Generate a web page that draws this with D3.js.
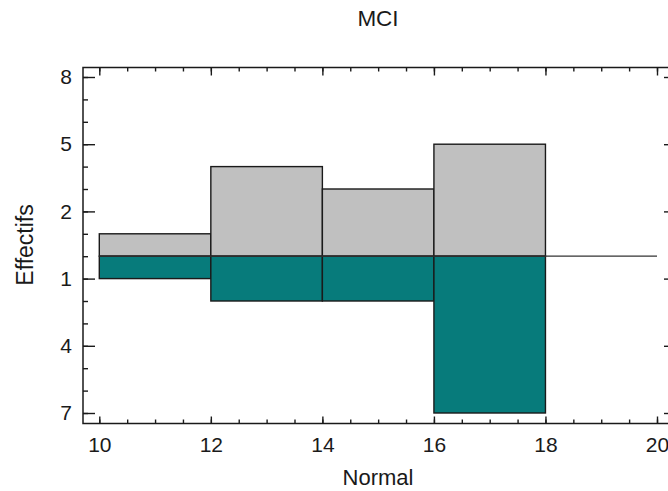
<!DOCTYPE html>
<html>
<head>
<meta charset="utf-8">
<script src="https://cdn.jsdelivr.net/npm/d3@7"></script>
<style>
  html, body { margin: 0; padding: 0; background: #fff; }
  svg { display: block; font-family: "Liberation Sans", Arial, sans-serif; }
</style>
</head>
<body>
<svg id="chart" width="668" height="491"></svg>
<script>
// ---- data ----
const binEdges = [10, 12, 14, 16, 18];
const mciCounts = [1, 4, 3, 5];        // upper histogram (MCI)
const normalCounts = [1, 2, 2, 7];     // lower histogram (Normal)
const xTickValues = [10, 12, 14, 16, 18, 20];
const yTickValues = [8, 5, 2, -1, -4, -7];
const titleText = "MCI";
const xLabelText = "Normal";
const yLabelText = "Effectifs";

// ---- layout ----
const svg = d3.select("#chart");
const frame = { left: 83, right: 676, top: 67.5, bottom: 423.5 };
const x = d3.scaleLinear().domain([10, 20]).range([99.3, 657]);
const y = d3.scaleLinear().domain([0, 8]).range([256.2, 77]);

const ink = "#1a1a1a";
const grayFill = "#c0c0c0";
const tealFill = "#077b7b";

const bins = mciCounts.map((c, i) => ({ x0: binEdges[i], x1: binEdges[i + 1], up: c, down: normalCounts[i] }));

// bars - upper (MCI)
svg.append("g").selectAll("rect").data(bins).join("rect")
  .attr("x", d => x(d.x0)).attr("width", d => x(d.x1) - x(d.x0))
  .attr("y", d => y(d.up)).attr("height", d => y(0) - y(d.up))
  .attr("fill", grayFill).attr("stroke", ink).attr("stroke-width", 1.4);

// bars - lower (Normal)
svg.append("g").selectAll("rect").data(bins).join("rect")
  .attr("x", d => x(d.x0)).attr("width", d => x(d.x1) - x(d.x0))
  .attr("y", y(0)).attr("height", d => y(-d.down) - y(0))
  .attr("fill", tealFill).attr("stroke", ink).attr("stroke-width", 1.4);

// baseline
svg.append("line")
  .attr("x1", x(10)).attr("x2", x(20)).attr("y1", y(0)).attr("y2", y(0))
  .attr("stroke", "#333").attr("stroke-width", 1.2);

// frame
svg.append("rect")
  .attr("x", frame.left).attr("y", frame.top)
  .attr("width", frame.right - frame.left).attr("height", frame.bottom - frame.top)
  .attr("fill", "none").attr("stroke", ink).attr("stroke-width", 1.5);

const xMinor = d3.range(10, 20.01, 0.5);
const yMinor = d3.range(-7, 8.01, 1);

function styleAxis(g) {
  g.select(".domain").remove();
  g.selectAll("line").attr("stroke", ink).attr("stroke-width", 1.4);
  g.selectAll("text").attr("fill", ink).attr("font-size", 21);
}

// bottom axis
svg.append("g").attr("transform", `translate(0,${frame.bottom})`)
  .call(d3.axisBottom(x).tickValues(xMinor).tickSize(-4).tickFormat(""))
  .call(styleAxis);
svg.append("g").attr("transform", `translate(0,${frame.bottom})`)
  .call(d3.axisBottom(x).tickValues(xTickValues).tickSize(-7).tickPadding(14).tickFormat(d3.format("d")))
  .call(styleAxis);

// top axis (ticks only)
svg.append("g").attr("transform", `translate(0,${frame.top})`)
  .call(d3.axisTop(x).tickValues(xMinor).tickSize(-4).tickFormat(""))
  .call(styleAxis);
svg.append("g").attr("transform", `translate(0,${frame.top})`)
  .call(d3.axisTop(x).tickValues(xTickValues).tickSize(-8).tickFormat(""))
  .call(styleAxis);

// left axis
svg.append("g").attr("transform", `translate(${frame.left},0)`)
  .call(d3.axisLeft(y).tickValues(yMinor).tickSize(-5).tickFormat(""))
  .call(styleAxis);
svg.append("g").attr("transform", `translate(${frame.left},0)`)
  .call(d3.axisLeft(y).tickValues(yTickValues).tickSize(-12).tickPadding(11).tickFormat(d => Math.abs(d)))
  .call(styleAxis);

// right axis (ticks only)
svg.append("g").attr("transform", `translate(${frame.right},0)`)
  .call(d3.axisRight(y).tickValues(yMinor).tickSize(-5).tickFormat(""))
  .call(styleAxis);
svg.append("g").attr("transform", `translate(${frame.right},0)`)
  .call(d3.axisRight(y).tickValues(yTickValues).tickSize(-12).tickFormat(""))
  .call(styleAxis);

// title & labels
svg.append("text").attr("x", 378).attr("y", 26)
  .attr("text-anchor", "middle").attr("font-size", 22.5).attr("fill", ink).text(titleText);
svg.append("text").attr("x", 378).attr("y", 485)
  .attr("text-anchor", "middle").attr("font-size", 22).attr("fill", ink).text(xLabelText);
svg.append("text").attr("transform", "translate(33,245) rotate(-90)")
  .attr("text-anchor", "middle").attr("font-size", 23).attr("fill", ink).text(yLabelText);
</script>
</body>
</html>
